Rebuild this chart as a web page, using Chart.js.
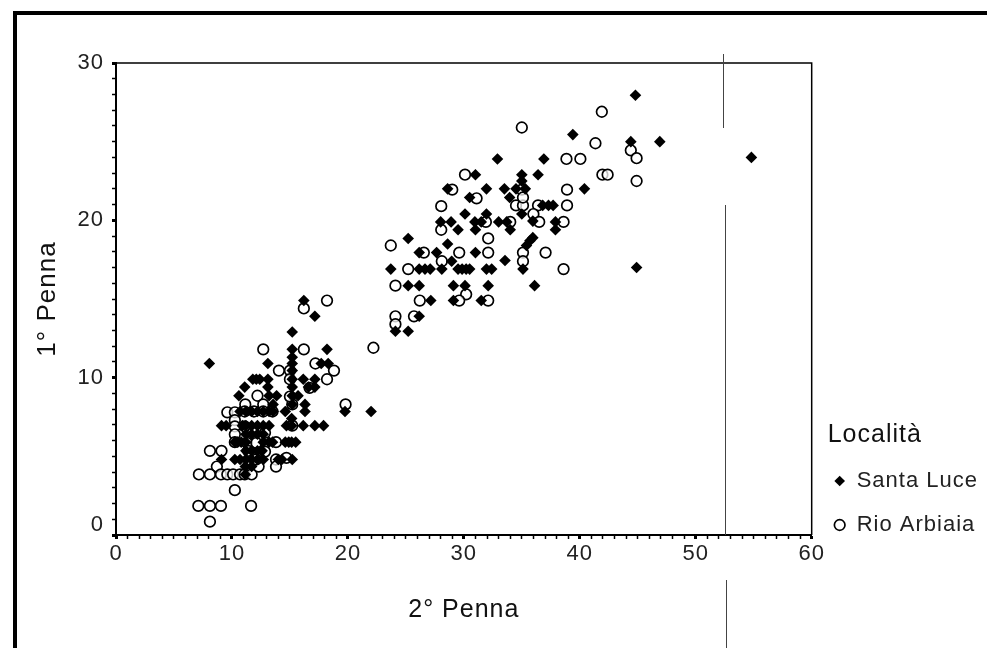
<!DOCTYPE html>
<html>
<head>
<meta charset="utf-8">
<title>1° Penna / 2° Penna</title>
<script src="https://cdn.jsdelivr.net/npm/chart.js@4"></script>
<style>
  html, body { margin: 0; padding: 0; background: #fff; overflow: hidden; }
  #wrap { position: relative; width: 987px; height: 648px; }
  #frame-top { position: absolute; left: 13px; top: 11px; width: 974px; height: 4px; background: #000; }
  #frame-left { position: absolute; left: 13px; top: 11px; width: 4px; height: 637px; background: #000; }
  .scanline { position: absolute; width: 1px; background: #444; }
</style>
</head>
<body>
<div id="wrap">
  <canvas id="chart" width="987" height="648"></canvas>
  <div id="frame-top"></div>
  <div id="frame-left"></div>
  <div class="scanline" style="left:723px;top:54px;height:74px"></div>
  <div class="scanline" style="left:725px;top:205px;height:330px"></div>
  <div class="scanline" style="left:726px;top:580px;height:68px"></div>
</div>
<script>
var xTickLabels = [0, 10, 20, 30, 40, 50, 60]
var yTickLabels = [0, 10, 20, 30]
var seriesNames = ['Santa Luce', 'Rio Arbiaia']

// valori: [2° Penna, 1° Penna]
var santaLuce = [
  [16.2, 14.9], [17.15, 13.9], [15.2, 12.9], [8.05, 10.9], [13.1, 10.9], [15.2, 11.8], [15.2, 11.3], [15.2, 10.9],
  [15.2, 10.45], [15.2, 8.85], [15.2, 8.3],
  [18.2, 11.8], [17.7, 10.9], [18.3, 10.9], [12.1, 9.9], [11.8, 9.9], [12.4, 9.9], [13.1, 9.9], [11.1, 9.4], [10.6, 8.85], [13.1, 9.4],
  [13.2, 8.85], [13.85, 8.85], [15.2, 9.9], [15.2, 9.4], [16.15, 9.9], [17.15, 9.9], [17.15, 9.4], [16.6, 9.4],
  [15.7, 8.85], [16.3, 8.3], [16.3, 7.85], [19.75, 7.85], [13.55, 8.3], [13.55, 7.85], [14.6, 7.85], [15.15, 7.4],
  [10.7, 7.85], [11.2, 7.85], [11.7, 7.85], [12.2, 7.85], [12.7, 7.85], [13.2, 7.85],
  [9.1, 6.95], [9.5, 6.95], [14.7, 6.95], [15.15, 6.95], [16.15, 6.95], [17.15, 6.95], [17.9, 6.95],
  [10.9, 6.95], [11.2, 6.95], [11.7, 6.95], [12.2, 6.95], [12.7, 6.95], [13.2, 6.95], [11.2, 6.4], [11.7, 6.4], [12.2, 6.4], [12.7, 6.4],
  [10.25, 5.9], [10.5, 5.9], [10.8, 5.9], [11.2, 5.9], [12.7, 5.9], [13.2, 5.9], [13.5, 5.9], [14.6, 5.9], [14.9, 5.9], [15.15, 5.9], [15.5, 5.9],
  [11.2, 5.35], [11.7, 5.35], [12.2, 5.35], [12.6, 5.35], [9.1, 4.8], [10.25, 4.8], [10.7, 4.8], [11.2, 4.8], [11.7, 4.8], [12.2, 4.8],
  [12.7, 4.8], [14.0, 4.8], [14.3, 4.8], [15.2, 4.8], [11.15, 4.35], [11.15, 3.85], [11.7, 4.35],
  [44.8, 27.95], [44.4, 25], [46.9, 25], [54.8, 24], [44.9, 17], [40.4, 22],
  [39.4, 25.45], [32.9, 23.9], [36.9, 23.9], [31, 22.9], [35, 22.9], [35, 22.5], [36.4, 22.9],
  [31.95, 22], [33.5, 22], [34.5, 22], [35.3, 22], [28.6, 22], [30.5, 21.45], [33.95, 21.45],
  [36.8, 20.95], [37.3, 20.95], [37.7, 20.95], [35, 20.4], [30.1, 20.4], [31.95, 20.4],
  [28, 19.9], [28.9, 19.9], [30.95, 19.9], [31.5, 19.9], [33, 19.9], [33.7, 19.9], [35.95, 19.95], [37.9, 19.9],
  [29.5, 19.4], [31, 19.4], [34, 19.4], [37.9, 19.4], [25.2, 18.85], [28.6, 18.5],
  [35.95, 18.9], [35.7, 18.7], [35.4, 18.4], [26.15, 17.95], [27.65, 17.95], [31, 17.95], [28.95, 17.4], [33.55, 17.45],
  [23.7, 16.9], [26.15, 16.9], [26.65, 16.9], [27.1, 16.9], [28.1, 16.9], [29.5, 16.9], [29.85, 16.9], [30.2, 16.9],
  [30.5, 16.9], [31.95, 16.9], [32.4, 16.9], [35.1, 16.9],
  [25.2, 15.85], [26.15, 15.85], [29.1, 15.85], [30.1, 15.85], [32.1, 15.85], [36.1, 15.85],
  [27.15, 14.9], [29.1, 14.9], [31.5, 14.9], [26.15, 13.9], [24.1, 12.95], [25.2, 12.95], [22.0, 7.85]
]
var rioArbiaia = [
  [18.2, 14.9], [16.2, 14.4], [12.7, 11.8], [16.2, 11.8], [17.2, 10.9], [14.05, 10.45], [18.8, 10.45], [18.2, 9.9],
  [15.2, 8.3], [19.8, 8.3], [12.2, 8.85], [11.15, 8.3], [12.7, 8.3], [9.6, 7.8], [10.25, 7.8], [10.25, 7.3],
  [10.25, 6.9], [10.25, 6.4], [10.25, 5.9], [8.1, 5.35], [9.1, 5.35], [8.7, 4.35], [13.8, 4.8], [13.8, 4.35],
  [7.15, 3.85], [8.1, 3.85], [9.05, 3.85], [9.6, 3.85], [10.1, 3.85], [10.7, 3.85], [11.1, 3.85], [11.7, 3.85],
  [12.3, 4.35], [10.25, 2.85], [7.1, 1.85], [8.1, 1.85], [9.05, 1.85], [11.65, 1.85], [8.1, 0.85],
  [11.3, 5.85], [12.1, 5.85], [12.85, 5.3], [13.8, 5.9], [15.2, 6.95], [16.7, 9.35], [15, 10.45], [15, 9.9], [15, 8.8],
  [13.5, 7.85], [12.7, 7.85], [11.9, 7.85], [11.1, 7.85], [14.7, 4.9], [12.1, 4.8], [11.4, 5.35], [12.85, 6.5], [11.1, 6.9],
  [35, 25.9], [41.9, 26.9], [41.35, 24.9], [38.85, 23.9], [40.05, 23.9], [30.1, 22.9], [29, 21.95], [31.1, 21.4],
  [28.05, 20.9], [38.9, 21.95], [38.9, 20.95], [34.5, 20.95], [35.1, 20.95], [36.4, 20.95], [36, 20.4], [36.5, 19.9],
  [38.6, 19.9], [34, 19.9], [31.9, 19.9], [28.05, 19.4], [32.1, 18.85], [23.7, 18.4], [35.1, 17.95], [35.1, 17.4],
  [37.05, 17.95], [26.55, 17.95], [29.6, 17.95], [28.1, 17.4], [32.1, 17.95], [25.2, 16.9], [38.6, 16.9], [24.1, 15.85],
  [30.2, 15.3], [29.6, 14.9], [26.2, 14.9], [32.1, 14.9], [25.7, 13.9], [24.1, 13.9], [24.1, 13.4], [22.2, 11.9],
  [35, 21.95], [35.1, 21.45], [41.95, 22.9], [42.4, 22.9], [44.4, 24.45], [44.9, 23.95], [44.9, 22.5]
]

function toPoints(pairs) {
  return pairs.map(function (p) { return { x: p[0], y: p[1] } })
}

// il testo dell'originale e' piu' largo: spaziatura lettere sul canvas
var spacingPlugin = {
  id: 'spacing',
  beforeLayout: function (chart) { chart.ctx.letterSpacing = '1px' },
  beforeDraw: function (chart) { chart.ctx.letterSpacing = '1px' }
}

// legenda piu' in basso e titolo spostato a destra rispetto al riquadro
var legendShiftPlugin = {
  id: 'legendShift',
  afterLayout: function (chart) {
    var legend = chart.legend
    legend.bottom += 23
    if (legend.shifted) return
    legend.shifted = true
    var drawTitle = legend.drawTitle
    legend.drawTitle = function () {
      chart.ctx.save()
      chart.ctx.translate(16, 0)
      drawTitle.call(legend)
      chart.ctx.restore()
    }
  }
}

// lati superiore e destro del riquadro
var plotFramePlugin = {
  id: 'plotFrame',
  afterDraw: function (chart) {
    var a = chart.chartArea, ctx = chart.ctx
    ctx.save()
    ctx.strokeStyle = '#000'
    ctx.lineWidth = 1.5
    ctx.beginPath()
    ctx.moveTo(a.left, a.top)
    ctx.lineTo(a.right, a.top)
    ctx.lineTo(a.right, a.bottom)
    ctx.stroke()
    ctx.restore()
  }
}

function axisGrid(labels) {
  return {
    drawOnChartArea: false,
    color: '#000',
    tickLength: 4,
    tickWidth: function (c) { return labels.indexOf(c.tick.value) >= 0 ? 3 : 1.5 }
  }
}

var fontFamily = '"Liberation Sans", Arial, sans-serif'

new Chart(document.getElementById('chart').getContext('2d'), {
  type: 'scatter',
  plugins: [spacingPlugin, legendShiftPlugin, plotFramePlugin],
  data: {
    datasets: [
      {
        label: seriesNames[0],
        data: toPoints(santaLuce),
        pointStyle: 'rectRot',
        pointRadius: 5.8,
        backgroundColor: '#000',
        borderColor: '#000',
        borderWidth: 0
      },
      {
        label: seriesNames[1],
        data: toPoints(rioArbiaia),
        pointStyle: 'circle',
        pointRadius: 5.3,
        backgroundColor: 'rgba(255,255,255,0.75)',
        borderColor: '#000',
        borderWidth: 1.7
      }
    ]
  },
  options: {
    responsive: false,
    animation: false,
    layout: { padding: { left: 32, top: 63, right: -1, bottom: 0 } },
    plugins: {
      tooltip: { enabled: false },
      legend: {
        position: 'right',
        align: 'end',
        fullSize: false,
        title: {
          display: true,
          text: 'Località',
          position: 'start',
          color: '#111',
          padding: { top: 0, bottom: -5 },
          font: { family: fontFamily, size: 25 }
        },
        labels: {
          usePointStyle: true,
          boxWidth: 12,
          boxHeight: 7.5,
          padding: 22,
          color: '#222',
          font: { family: fontFamily, size: 22 }
        }
      }
    },
    scales: {
      x: {
        type: 'linear',
        min: 0,
        max: 60,
        afterFit: function (s) { s.height = 113 },
        ticks: {
          stepSize: 1,
          autoSkip: false,
          maxRotation: 0,
          color: '#222',
          font: { family: fontFamily, size: 22 },
          padding: 2,
          callback: function (v) { return xTickLabels.indexOf(v) >= 0 ? String(v) : '' }
        },
        grid: axisGrid(xTickLabels),
        border: { color: '#000', width: 2 },
        title: {
          display: true,
          text: '2° Penna',
          color: '#111',
          padding: { top: 0, bottom: 23 },
          font: { family: fontFamily, size: 25 }
        }
      },
      y: {
        type: 'linear',
        min: 0,
        max: 30,
        afterFit: function (s) { s.width = 84 },
        ticks: {
          stepSize: 1,
          autoSkip: false,
          color: '#222',
          font: { family: fontFamily, size: 22, lineHeight: 0.9 },
          padding: 8,
          // lo zero sta un po' sopra l'asse, come nell'originale
          callback: function (v) {
            if (v === 0) return ['0', '']
            return yTickLabels.indexOf(v) >= 0 ? String(v) : ''
          }
        },
        grid: axisGrid(yTickLabels),
        border: { color: '#000', width: 2 },
        title: {
          display: true,
          text: '1° Penna',
          color: '#111',
          padding: { top: 0, bottom: 0 },
          font: { family: fontFamily, size: 26 }
        }
      }
    }
  }
})
</script>
</body>
</html>
